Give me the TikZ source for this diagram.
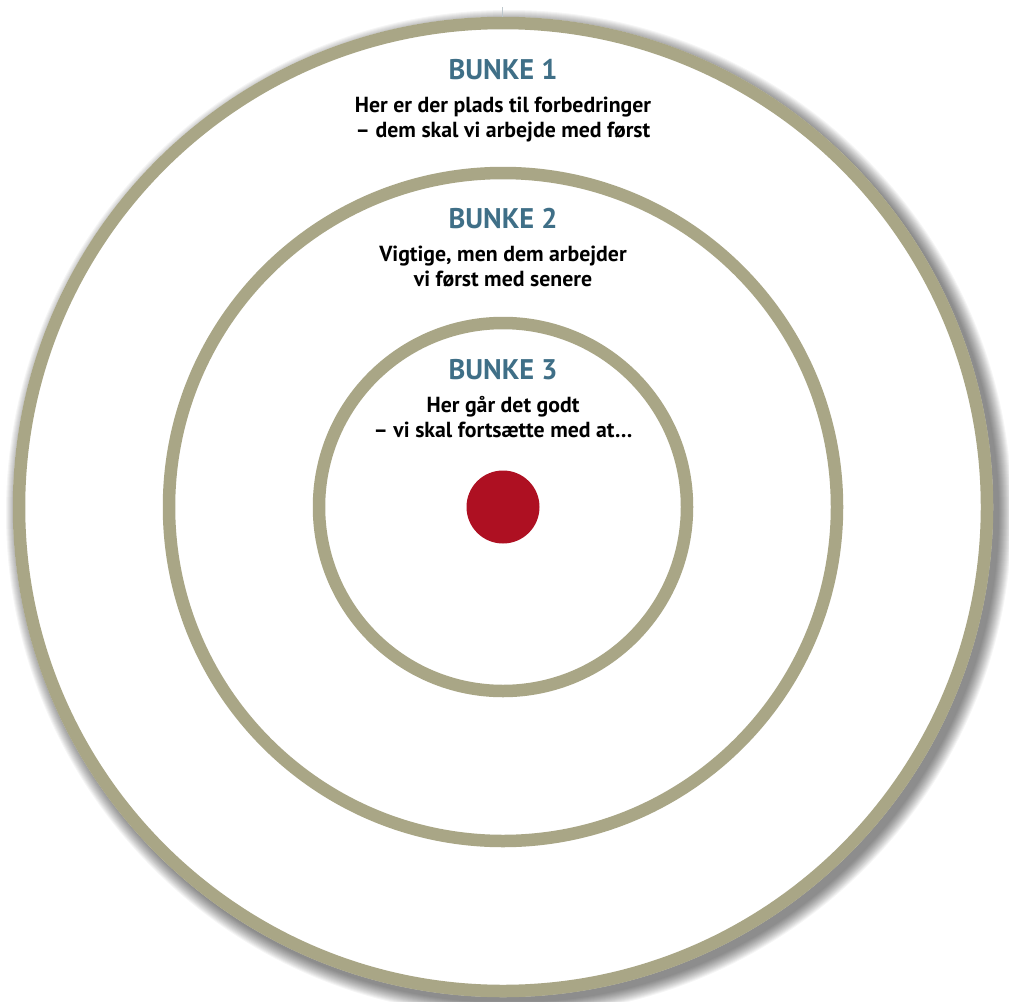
\documentclass[tikz,border=0pt]{standalone}
\usepackage{fontspec}
\setmainfont{PT Sans}
\definecolor{ringcol}{RGB}{169,166,134}
\definecolor{dotred}{RGB}{174,16,34}
\definecolor{titleblue}{RGB}{63,111,135}
\definecolor{tickcol}{RGB}{190,200,205}
\begin{document}
\begin{tikzpicture}[x=1pt,y=-1pt,
  ring/.style={draw=ringcol,line width=12.5pt},
  title/.style={anchor=base,text=titleblue,font=\bfseries\fontsize{28.4}{30}\selectfont,inner sep=0pt},
  body/.style={anchor=base,text=black,font=\bfseries\fontsize{21.8}{24}\selectfont,inner sep=0pt}]
\useasboundingbox (0,0) rectangle (1009,1001);
\fill[white] (0,0) rectangle (1009,1001);
\coordinate (c) at (503,507);
\coordinate (sc) at (509,513);
% drop shadow of the outer ring
\foreach \k in {0,...,13}{
  \fill[black,opacity=0.04] (sc) circle ({(490+13-\k)*1pt});
}
\fill[white] (c) circle (490pt);
% rings
\draw[ring] (c) circle (484pt);
\draw[ring] (c) circle (334pt);
\draw[ring] (c) circle (184pt);
% top tick
\coordinate (tickA) at (502,7);
\coordinate (tickB) at (502,17);
\draw[tickcol,line width=1pt] (tickA) -- (tickB);
% centre dot
\fill[dotred] (c) circle (36.5pt);
\node[circle,inner sep=0pt,minimum size=0pt] (dot) at (c) {};
% texts
\node[title] (t1) at (503,79) {BUNKE 1};
\node[body] (t1a) at (503,112) {Her er der plads til forbedringer};
\node[body] (t1b) at (503,137) {– dem skal vi arbejde med først};
\node[title] (t2) at (503,228) {BUNKE 2};
\node[body] (t2a) at (503,261) {Vigtige, men dem arbejder};
\node[body] (t2b) at (503,286) {vi først med senere};
\node[title] (t3) at (503,379) {BUNKE 3};
\node[body] (t3a) at (503,412) {Her går det godt};
\node[body] (t3b) at (503,437) {– vi skal fortsætte med at…};
\end{tikzpicture}
\end{document}
